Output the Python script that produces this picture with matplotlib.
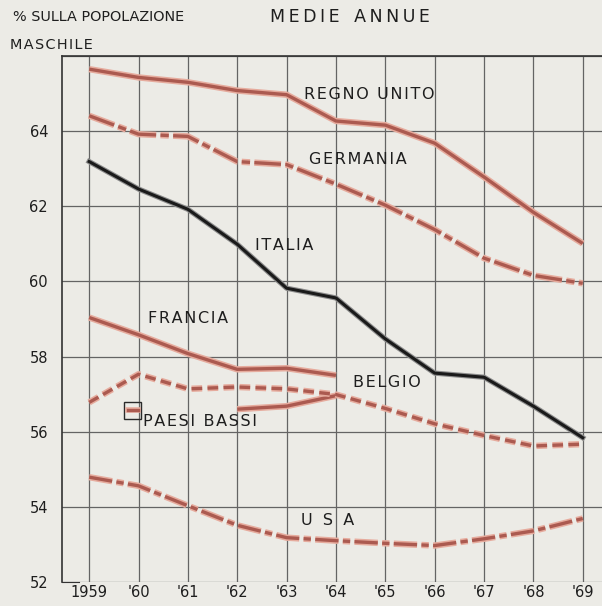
import matplotlib
matplotlib.use("Agg")
import matplotlib.pyplot as plt
import matplotlib.patheffects as pe
from matplotlib.patches import Rectangle

# --- Data ---
years = [1959, 1960, 1961, 1962, 1963, 1964, 1965, 1966, 1967, 1968, 1969]
year_labels = ["1959", "'60", "'61", "'62", "'63", "'64", "'65", "'66", "'67", "'68", "'69"]
y_ticks = [52, 54, 56, 58, 60, 62, 64]

regno_unito = [65.65, 65.43, 65.30, 65.08, 64.97, 64.27, 64.16, 63.68, 62.78, 61.84, 61.01]
germania = [64.41, 63.92, 63.86, 63.19, 63.11, 62.59, 62.03, 61.38, 60.62, 60.16, 59.95]
italia = [63.19, 62.46, 61.92, 60.99, 59.82, 59.56, 58.47, 57.56, 57.45, 56.68, 55.84]
francia_years = [1959, 1960, 1961, 1962, 1963, 1964]
francia = [59.04, 58.58, 58.08, 57.66, 57.69, 57.50]
belgio_years = [1962, 1963, 1964]
belgio = [56.60, 56.68, 56.96]
paesi_bassi = [56.78, 57.53, 57.14, 57.19, 57.14, 56.99, 56.62, 56.21, 55.90, 55.62, 55.67]
usa = [54.79, 54.56, 54.03, 53.51, 53.18, 53.10, 53.03, 52.97, 53.15, 53.36, 53.69]

BG = "#ecebe6"
RED = "#ab5a50"
HALO = "#e6ab9d"
GRID = "#646464"
TXT = "#1e1e1e"


def spaced(s, sep="\u200a"):
    # mimic the wide letter spacing of the original lettering
    return sep.join(s)


fig = plt.figure(figsize=(6.02, 6.06), dpi=100, facecolor=BG)
ax = fig.add_axes([62 / 602, 1 - 582 / 606, 540 / 602, 526 / 606])
ax.set_facecolor(BG)

ax.set_xlim(1958.45, 1969.39)
ax.set_ylim(52, 66)

# grid
ax.set_xticks(years)
ax.set_yticks(y_ticks + [66])
ax.grid(True, color=GRID, linewidth=0.9)
ax.set_axisbelow(True)
ax.tick_params(length=0, labelsize=10.5, labelcolor=TXT)
ax.set_xticklabels(year_labels)
ax.set_yticklabels([str(v) for v in y_ticks] + [""])
ax.tick_params(axis="y", pad=10)
ax.tick_params(axis="x", pad=2)

ax.spines["right"].set_visible(False)
ax.spines["left"].set_color("#333333")
ax.spines["top"].set_color("#333333")
ax.spines["left"].set_linewidth(1.2)
ax.spines["top"].set_linewidth(1.2)
ax.spines["bottom"].set_bounds(1958.45, 1958.8)
ax.spines["bottom"].set_color("#333333")


def red_line(x, y, dashes=None):
    line, = ax.plot(x, y, color=RED, linewidth=2.4, solid_capstyle="butt",
                    dash_capstyle="butt")
    if dashes:
        line.set_dashes(dashes)
    line.set_path_effects([pe.Stroke(linewidth=4.6, foreground=HALO), pe.Normal()])
    return line


red_line(years, regno_unito)
red_line(years, germania, dashes=(8, 1.3, 2.5, 1.3))
red_line(francia_years, francia)
red_line(belgio_years, belgio)
red_line(years, paesi_bassi, dashes=(3.2, 1.6))
red_line(years, usa, dashes=(7, 1.3, 2.2, 1.3))

it, = ax.plot(years, italia, color="#1a1a1a", linewidth=2.2)
it.set_path_effects([pe.Stroke(linewidth=3.8, foreground="#8c8c8c"), pe.Normal()])

# series labels
lab = dict(fontsize=11.5, color=TXT, ha="left", va="center")
ax.text(1963.35, 64.97, spaced("REGNO UNITO"), **lab)
ax.text(1963.45, 63.24, spaced("GERMANIA"), **lab)
ax.text(1962.35, 60.96, spaced("ITALIA"), **lab)
ax.text(1960.2, 59.0, spaced("FRANCIA"), **lab)
ax.text(1964.35, 57.3, spaced("BELGIO"), **lab)
ax.text(1960.1, 56.27, spaced("PAESI BASSI"), **lab)
ax.text(1963.3, 53.63, "U  S  A", **lab)

# small key box next to PAESI BASSI
ax.add_patch(Rectangle((1959.7, 56.34), 0.36, 0.46, fill=False, edgecolor="#2a2a2a", linewidth=1.0))
key, = ax.plot([1959.78, 1959.98], [56.57, 56.57], color=RED, linewidth=2.4)
key.set_path_effects([pe.Stroke(linewidth=4.0, foreground=HALO), pe.Normal()])

# header texts
fig.text(13 / 602, 1 - 17 / 606, "% SULLA POPOLAZIONE", fontsize=10.4, color=TXT, ha="left", va="center")
fig.text(10 / 602, 1 - 45 / 606, spaced("MASCHILE"), fontsize=10.4, color=TXT, ha="left", va="center")
fig.text(350 / 602, 1 - 17 / 606, spaced("MEDIE", "\u2009") + "\u2009  " + spaced("ANNUE", "\u2009"),
         fontsize=12.5, color=TXT, ha="center", va="center")

fig.savefig("out.png", dpi=100, facecolor=BG)
